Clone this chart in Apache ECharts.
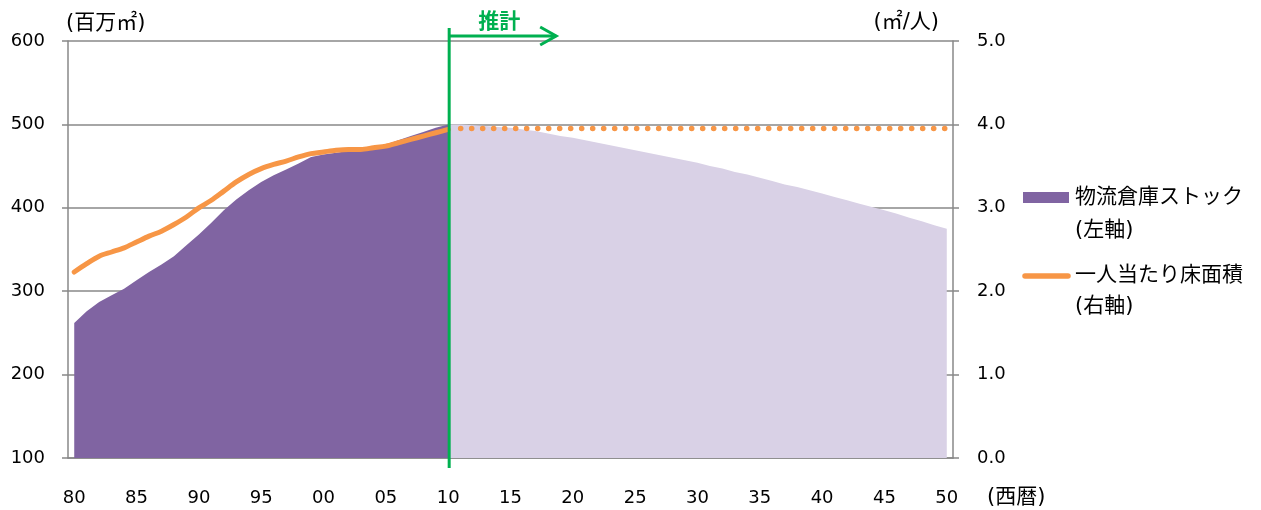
<!DOCTYPE html>
<html><head><meta charset="utf-8">
<script src="https://cdn.jsdelivr.net/npm/echarts@6/dist/echarts.min.js"></script>
<style>html,body{margin:0;padding:0;background:#fff}#c{width:1261px;height:510px}</style>
</head><body><div id="c"></div>
<script>
// Categories: years 1980 .. 2050
const years = [];
for (let y = 1980; y <= 2050; y++) years.push(String(y));

// 物流倉庫ストック (百万㎡), actual 1980-2010
const stockActual = [262,276,287,295,303,313,323,332,342,355,368,382,397,410,421,431,439,446,453,461,464,466,468,470,472,476,481,486,491,496,500];
// 物流倉庫ストック (百万㎡), projection 2010-2050
const stockProjected = [500,500,499,498,497,496,494,492,489,486,484,481,478,475,472,469,466,463,460,457,454,450,447,443,440,436,432,428,425,421,417,413,409,405,401,397,393,388,384,379,375];
// 一人当たり床面積 (㎡/人), actual 1980-2010
const floorActual = [2.23,2.33,2.42,2.47,2.52,2.59,2.66,2.72,2.80,2.89,3.00,3.09,3.20,3.31,3.40,3.47,3.52,3.56,3.61,3.65,3.67,3.69,3.70,3.70,3.72,3.74,3.78,3.82,3.86,3.90,3.94];
// 一人当たり床面積 (㎡/人), projection 2011-2050
const floorProjected = [3.95,3.95,3.95,3.95,3.95,3.95,3.95,3.95,3.95,3.95,3.95,3.95,3.95,3.95,3.95,3.95,3.95,3.95,3.95,3.95,3.95,3.95,3.95,3.95,3.95,3.95,3.95,3.95,3.95,3.95,3.95,3.95,3.95,3.95,3.95,3.95,3.95,3.95,3.95,3.95];

const leftTicks = {min: 100, max: 600, interval: 100};
const rightTicks = {min: 0, max: 5, interval: 1};

const FONT = '"DejaVu Sans", "Noto Sans CJK JP", sans-serif';
const GRAY = '#888888';
const GREEN = '#00B050';
const PURPLE = '#8064A2';
const LILAC = '#D9D1E6';
const ORANGE = '#F79646';

function place(arr, startYear) {
  const out = years.map(() => null);
  const i0 = years.indexOf(String(startYear));
  arr.forEach((v, k) => { out[i0 + k] = v; });
  return out;
}

const chart = echarts.init(document.getElementById('c'), null, {renderer: 'canvas'});
const option = {
  animation: false,
  backgroundColor: '#fff',
  grid: {left: 68, right: 308, top: 41, bottom: 52},
  xAxis: {
    type: 'category', data: years, boundaryGap: true,
    axisLine: {lineStyle: {color: GRAY, width: 1.5}},
    axisTick: {interval: 4, length: 6, lineStyle: {color: GRAY, width: 1.5}},
    axisLabel: {interval: 4, formatter: v => v.slice(2), margin: 31, fontSize: 18, color: '#000', fontFamily: FONT},
    splitLine: {show: false}
  },
  yAxis: [
    {type: 'value', position: 'left', min: leftTicks.min, max: leftTicks.max, interval: leftTicks.interval,
     axisLine: {show: true, lineStyle: {color: GRAY, width: 1.5}},
     axisTick: {show: true, length: 6, lineStyle: {color: GRAY, width: 1.5}},
     axisLabel: {margin: 23, fontSize: 18, color: '#000', fontFamily: FONT},
     splitLine: {show: true, lineStyle: {color: GRAY, width: 1.5}}},
    {type: 'value', position: 'right', min: rightTicks.min, max: rightTicks.max, interval: rightTicks.interval,
     axisLine: {show: true, lineStyle: {color: GRAY, width: 1.5}},
     axisTick: {show: true, length: 6, lineStyle: {color: GRAY, width: 1.5}},
     axisLabel: {margin: 24, fontSize: 18, color: '#000', fontFamily: FONT, formatter: v => v.toFixed(1)},
     splitLine: {show: false}}
  ],
  series: [
    {name: '物流倉庫ストック予測', type: 'line', yAxisIndex: 0, data: place(stockProjected, 2010),
     symbol: 'none', lineStyle: {width: 0}, areaStyle: {color: LILAC, opacity: 1, origin: 'start'}, z: 1},
    {name: '物流倉庫ストック', type: 'line', yAxisIndex: 0, data: place(stockActual, 1980),
     symbol: 'none', lineStyle: {width: 0}, areaStyle: {color: PURPLE, opacity: 1, origin: 'start'}, z: 2},
    {name: '一人当たり床面積', type: 'line', yAxisIndex: 1, data: place(floorActual, 1980),
     symbol: 'none', smooth: 0.3, lineStyle: {color: ORANGE, width: 5, cap: 'round', join: 'round'}, z: 3},
    {name: '一人当たり床面積予測', type: 'line', yAxisIndex: 1, data: place(floorProjected, 2011),
     symbol: 'none', lineStyle: {color: ORANGE, width: 5.5, type: [0.1, 10.9], cap: 'round'}, z: 3}
  ]
};
chart.setOption(option);

const gx = chart.convertToPixel({xAxisIndex: 0}, '2010') + 1;
const tY = {fontFamily: FONT, fill: '#000'};
chart.setOption({
  graphic: [
    // 推計 marker
    {type: 'line', z: 100, shape: {x1: gx, y1: 28, x2: gx, y2: 468}, style: {stroke: GREEN, lineWidth: 3}},
    {type: 'line', z: 100, shape: {x1: gx, y1: 36, x2: gx + 107, y2: 36}, style: {stroke: GREEN, lineWidth: 3}},
    {type: 'polyline', z: 100, shape: {points: [[gx + 91, 27], [gx + 107, 36], [gx + 91, 45]]}, style: {stroke: GREEN, lineWidth: 3, fill: null}},
    {type: 'text', z: 100, style: {text: '推計', x: gx + 50, y: 20, align: 'center', verticalAlign: 'middle', font: 'bold 21px "Noto Sans CJK JP"', fill: GREEN}},
    // axis names
    {type: 'text', style: Object.assign({}, tY, {text: '(百万㎡)', x: 66, y: 24, verticalAlign: 'middle', fontSize: 21})},
    {type: 'text', style: Object.assign({}, tY, {text: '(㎡/人)', x: 939, y: 23, align: 'right', verticalAlign: 'middle', fontSize: 21})},
    {type: 'text', style: Object.assign({}, tY, {text: '(西暦)', x: 987, y: 498, verticalAlign: 'middle', fontSize: 21})},
    // legend
    {type: 'rect', shape: {x: 1023, y: 192, width: 46, height: 11}, style: {fill: PURPLE}},
    {type: 'text', style: Object.assign({}, tY, {text: '物流倉庫ストック', x: 1075, y: 198, verticalAlign: 'middle', fontSize: 21})},
    {type: 'text', style: Object.assign({}, tY, {text: '(左軸)', x: 1075, y: 231, verticalAlign: 'middle', fontSize: 21})},
    {type: 'line', shape: {x1: 1025, y1: 276, x2: 1068, y2: 276}, style: {stroke: ORANGE, lineWidth: 5.5, lineCap: 'round'}},
    {type: 'text', style: Object.assign({}, tY, {text: '一人当たり床面積', x: 1075, y: 276, verticalAlign: 'middle', fontSize: 21})},
    {type: 'text', style: Object.assign({}, tY, {text: '(右軸)', x: 1075, y: 307, verticalAlign: 'middle', fontSize: 21})}
  ]
});
</script>
</body></html>
